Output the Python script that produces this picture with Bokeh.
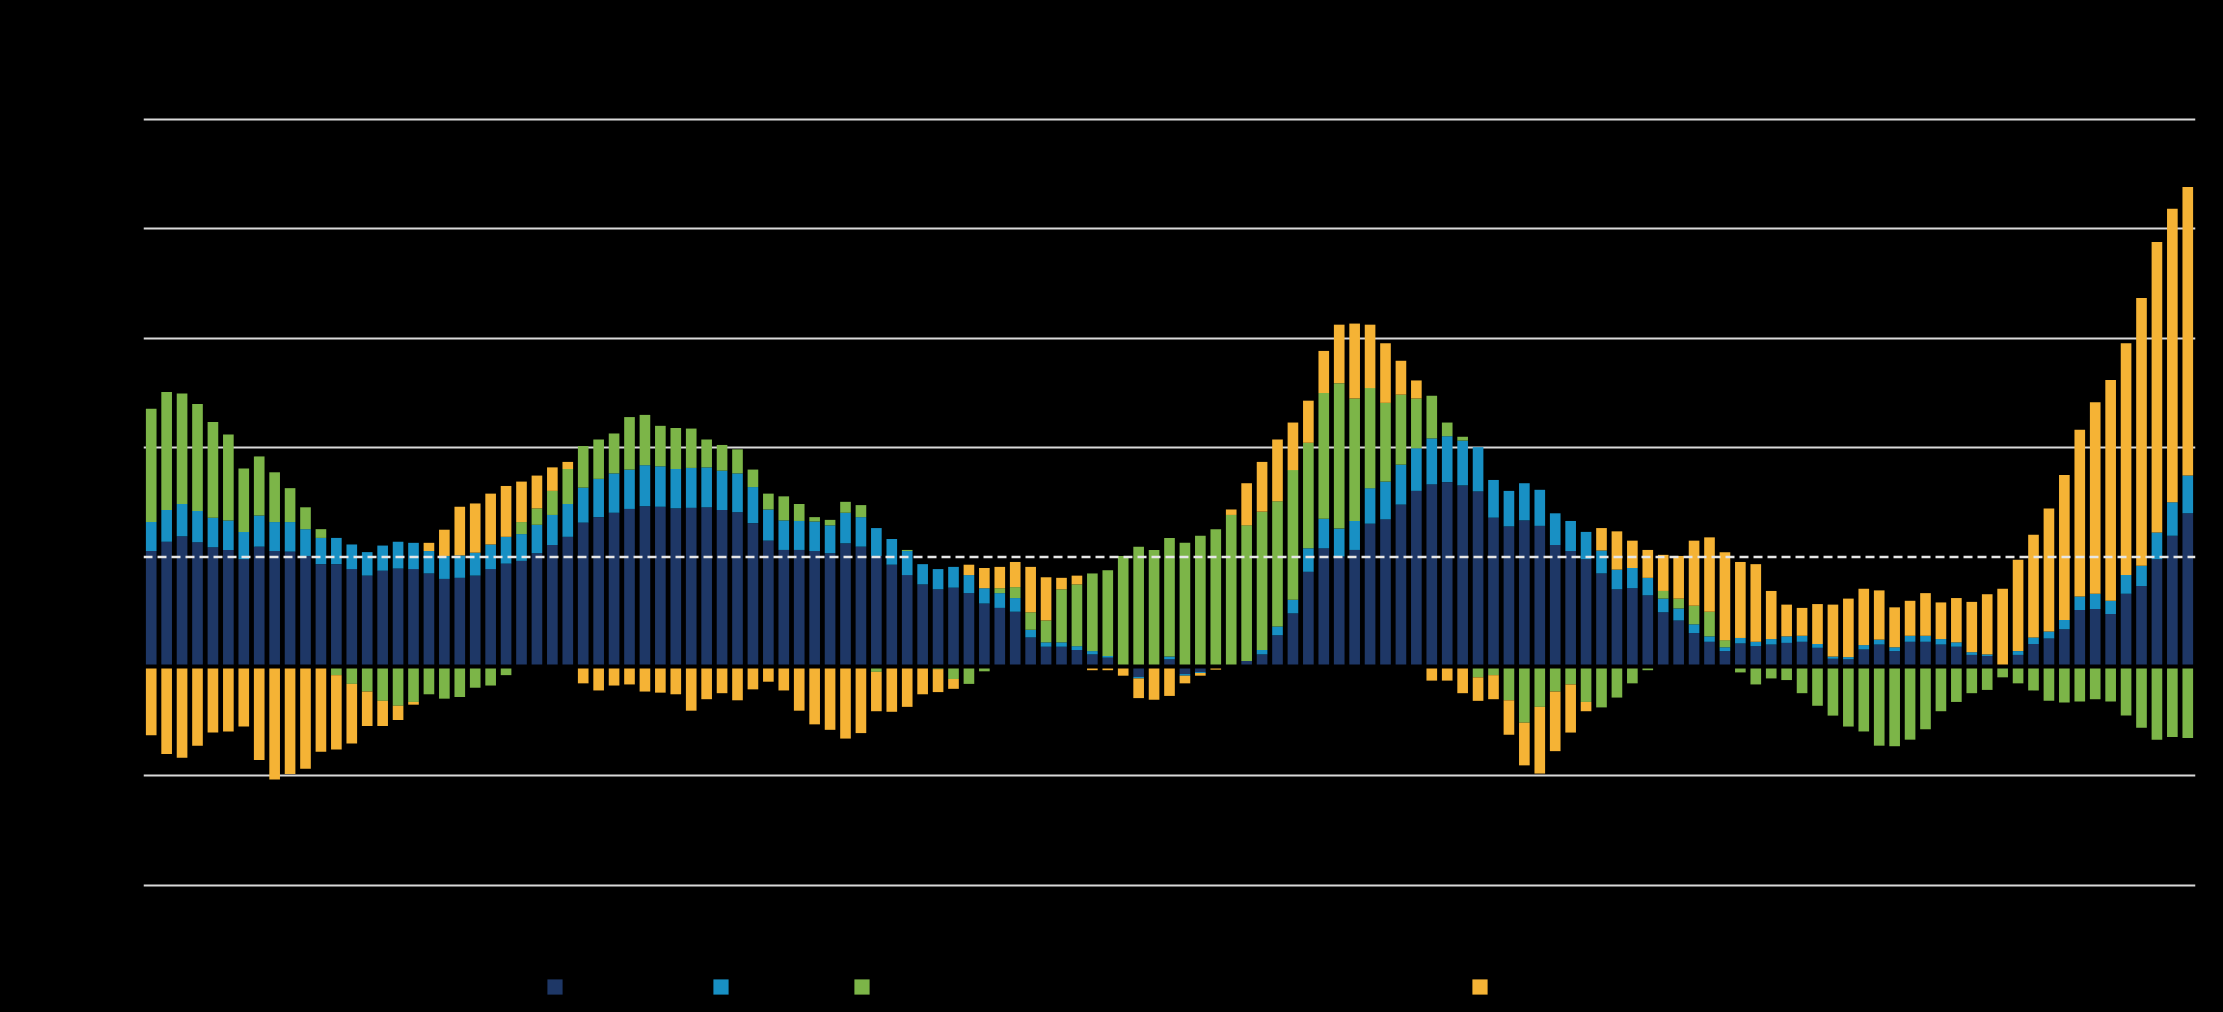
import numpy as np
from bokeh.plotting import figure
from bokeh.models import Range1d, FixedTicker, Span, Legend, LegendItem
from bokeh.core.properties import value
from bokeh.embed import file_html
from bokeh.resources import INLINE

# ---- data (percentage-point contributions) ----
periods = [f"{1989 + i // 4}Q{i % 4 + 1}" for i in range(133)]

series_names = [
    "Wages and salaries",
    "Operating profit",
    "Taxes on production and imports, less subsidies (contribution to growth in percentage points)",
    "Import prices",
]

navy = [2.11, 2.28, 2.38, 2.27, 2.18, 2.13, 1.96, 2.19, 2.11, 2.10, 2.02, 1.87, 1.87, 1.78, 1.66, 1.75,
        1.79, 1.78, 1.70, 1.60, 1.62, 1.66, 1.78, 1.88, 1.93, 2.07, 2.22, 2.37, 2.63, 2.73, 2.81, 2.88,
        2.93, 2.92, 2.89, 2.90, 2.91, 2.86, 2.82, 2.62, 2.30, 2.13, 2.13, 2.11, 2.07, 2.25, 2.19, 2.02,
        1.86, 1.67, 1.50, 1.41, 1.44, 1.34, 1.15, 1.07, 1.00, 0.53, 0.36, 0.36, 0.30, 0.22, 0.16, 0.00,
        -0.19, 0.00, 0.13, -0.14, -0.10, 0.00, 0.00, 0.10, 0.22, 0.57, 0.97, 1.73, 2.16, 2.01, 2.13, 2.61,
        2.69, 2.96, 3.21, 3.33, 3.37, 3.31, 3.20, 2.72, 2.56, 2.67, 2.57, 2.22, 2.11, 1.96, 1.70, 1.41,
        1.43, 1.30, 0.99, 0.84, 0.61, 0.45, 0.28, 0.42, 0.37, 0.40, 0.43, 0.45, 0.34, 0.14, 0.13, 0.31,
        0.40, 0.28, 0.45, 0.45, 0.40, 0.36, 0.21, 0.19, 0.02, 0.21, 0.41, 0.51, 0.68, 1.03, 1.05, 0.96,
        1.33, 1.47, 1.96, 2.39, 2.80]

blue = [0.53, 0.58, 0.59, 0.57, 0.54, 0.54, 0.50, 0.57, 0.53, 0.54, 0.49, 0.48, 0.48, 0.45, 0.43, 0.46,
        0.49, 0.48, 0.41, 0.42, 0.41, 0.42, 0.45, 0.49, 0.49, 0.52, 0.55, 0.60, 0.64, 0.70, 0.72, 0.72,
        0.75, 0.74, 0.72, 0.73, 0.73, 0.72, 0.71, 0.66, 0.57, 0.54, 0.53, 0.54, 0.51, 0.56, 0.54, 0.51,
        0.47, 0.44, 0.37, 0.37, 0.38, 0.33, 0.28, 0.27, 0.25, 0.14, 0.08, 0.08, 0.07, 0.06, 0.03, 0.00,
        -0.03, 0.00, 0.05, -0.03, -0.02, 0.00, 0.00, 0.00, 0.08, 0.16, 0.25, 0.43, 0.54, 0.51, 0.53, 0.65,
        0.69, 0.73, 0.78, 0.84, 0.84, 0.82, 0.81, 0.69, 0.65, 0.68, 0.66, 0.58, 0.55, 0.50, 0.42, 0.36,
        0.37, 0.32, 0.25, 0.22, 0.16, 0.10, 0.07, 0.10, 0.08, 0.10, 0.12, 0.11, 0.07, 0.04, 0.04, 0.08,
        0.09, 0.07, 0.11, 0.11, 0.10, 0.08, 0.05, 0.03, 0.00, 0.07, 0.12, 0.13, 0.17, 0.25, 0.28, 0.24,
        0.34, 0.37, 0.49, 0.61, 0.69]

green = [2.07, 2.16, 2.02, 1.96, 1.75, 1.57, 1.16, 1.08, 0.91, 0.62, 0.40, 0.16, -0.16, -0.32, -0.46, -0.63,
         -0.72, -0.65, -0.51, -0.59, -0.56, -0.39, -0.35, -0.16, 0.22, 0.30, 0.44, 0.64, 0.76, 0.72, 0.73, 0.96,
         0.92, 0.74, 0.75, 0.72, 0.51, 0.47, 0.44, 0.32, 0.29, 0.44, 0.31, 0.08, 0.10, 0.20, 0.22, -0.10,
         0.00, 0.02, 0.00, -0.05, -0.23, -0.32, -0.09, 0.09, 0.20, 0.32, 0.40, 0.97, 1.13, 1.42, 1.57, 2.02,
         2.19, 2.13, 2.17, 2.26, 2.39, 2.51, 2.77, 2.48, 2.53, 2.29, 2.37, 1.93, 2.30, 2.66, 2.24, 1.83,
         1.44, 1.28, 0.91, 0.78, 0.25, 0.07, -0.20, -0.16, -0.62, -1.03, -0.74, -0.46, -0.33, -0.65, -0.75, -0.57,
         -0.31, -0.07, 0.14, 0.18, 0.34, 0.45, 0.13, -0.11, -0.33, -0.22, -0.25, -0.49, -0.72, -0.90, -1.10, -1.19,
         -1.45, -1.46, -1.34, -1.15, -0.82, -0.65, -0.49, -0.43, -0.20, -0.31, -0.44, -0.63, -0.66, -0.64, -0.60, -0.64,
         -0.90, -1.12, -1.34, -1.29, -1.31]

orange = [-1.26, -1.60, -1.67, -1.45, -1.21, -1.19, -1.10, -1.71, -2.07, -1.97, -1.87, -1.56, -1.36, -1.09, -0.63, -0.46,
          -0.26, -0.05, 0.15, 0.48, 0.89, 0.90, 0.93, 0.93, 0.74, 0.60, 0.43, 0.13, -0.31, -0.44, -0.35, -0.33,
          -0.46, -0.48, -0.51, -0.81, -0.60, -0.49, -0.62, -0.42, -0.28, -0.44, -0.81, -1.06, -1.16, -1.32, -1.22, -0.72,
          -0.83, -0.74, -0.51, -0.42, -0.18, 0.19, 0.37, 0.39, 0.46, 0.83, 0.79, 0.21, 0.16, -0.07, -0.07, -0.17,
          -0.36, -0.61, -0.54, -0.14, -0.05, -0.06, 0.10, 0.77, 0.91, 1.13, 0.87, 0.77, 0.77, 1.07, 1.37, 1.16,
          1.09, 0.62, 0.33, -0.26, -0.26, -0.49, -0.43, -0.44, -0.63, -0.78, -1.22, -1.09, -0.88, -0.17, 0.41, 0.70,
          0.50, 0.51, 0.66, 0.78, 1.19, 1.36, 1.61, 1.39, 1.42, 0.88, 0.58, 0.51, 0.73, 0.95, 1.07, 1.03,
          0.90, 0.73, 0.64, 0.78, 0.67, 0.81, 0.92, 1.10, 1.40, 1.67, 1.88, 2.25, 2.65, 3.05, 3.50, 4.04,
          4.24, 4.90, 5.31, 5.37, 5.28]

y_ticks = [-4, -2, 0, 2, 4, 6, 8, 10]
target = 2

colors = ["#1e3766", "#1890c4", "#7cb548", "#f5b335"]

# ---- figure ----
n = len(periods)
x = np.arange(n)

p = figure(frame_width=2052, frame_height=912, min_border_left=143, min_border_right=28,
           min_border_top=100, min_border_bottom=0,
           x_range=Range1d(-0.5, n - 0.5), y_range=Range1d(-6.33, 10.35),
           output_backend="svg", toolbar_location=None,
           background_fill_color="black", border_fill_color="black")
p.outline_line_color = None

pos_base = np.zeros(n)
neg_base = np.zeros(n)
renderers = []
for vals, col in zip([navy, blue, green, orange], colors):
    v = np.array(vals, dtype=float)
    bottom = np.where(v >= 0, pos_base, neg_base)
    top = bottom + v
    pos_base = np.where(v >= 0, top, pos_base)
    neg_base = np.where(v < 0, top, neg_base)
    r = p.vbar(x=x, bottom=bottom, top=top, width=0.69, fill_color=col, line_color=None)
    renderers.append(r)

# grid
p.xgrid.visible = False
p.ygrid.ticker = FixedTicker(ticks=[t for t in y_ticks if t not in (0, target)])
p.ygrid.grid_line_color = "#d9d9d9"
p.ygrid.grid_line_width = 2

p.add_layout(Span(location=target, dimension="width", line_color="#e6e6e6",
                  line_width=2.5, line_dash="9 5"))
p.add_layout(Span(location=0, dimension="width", line_color="black", line_width=4))

# axes
p.yaxis.ticker = FixedTicker(ticks=y_ticks)
p.yaxis.axis_line_color = None
p.yaxis.major_tick_line_color = None
p.yaxis.minor_tick_line_color = None
p.yaxis.major_tick_out = 0
p.yaxis.major_label_text_color = "black"
p.yaxis.major_label_text_font = "Liberation Sans"
p.yaxis.major_label_text_font_size = "14px"
p.yaxis.major_label_standoff = 4
p.xaxis.visible = False

# x (period) labels, black as in the reference, just below the lowest gridline
xt = [i for i in range(n) if i % 8 == 0]
p.text(x=xt, y=[-4.45] * len(xt), text=[periods[i][:4] for i in xt],
       text_color="black", text_font=value("Liberation Sans"), text_font_size="14px",
       text_align="center", text_baseline="top")

legend = Legend(items=[LegendItem(label=nm, renderers=[r]) for nm, r in zip(series_names, renderers)],
                orientation="horizontal", location=(402, 16),
                glyph_width=19, glyph_height=19, label_standoff=3, spacing=22,
                padding=0, margin=0,
                label_text_color="black", label_text_font="Liberation Sans",
                label_text_font_size="14px",
                background_fill_alpha=0, border_line_alpha=0)
p.add_layout(legend, "center")

html = file_html(p, INLINE)
html = html.replace("</head>", "<style>html, body { background-color: #000000; }</style></head>", 1)
open("out.html", "w").write(html)
